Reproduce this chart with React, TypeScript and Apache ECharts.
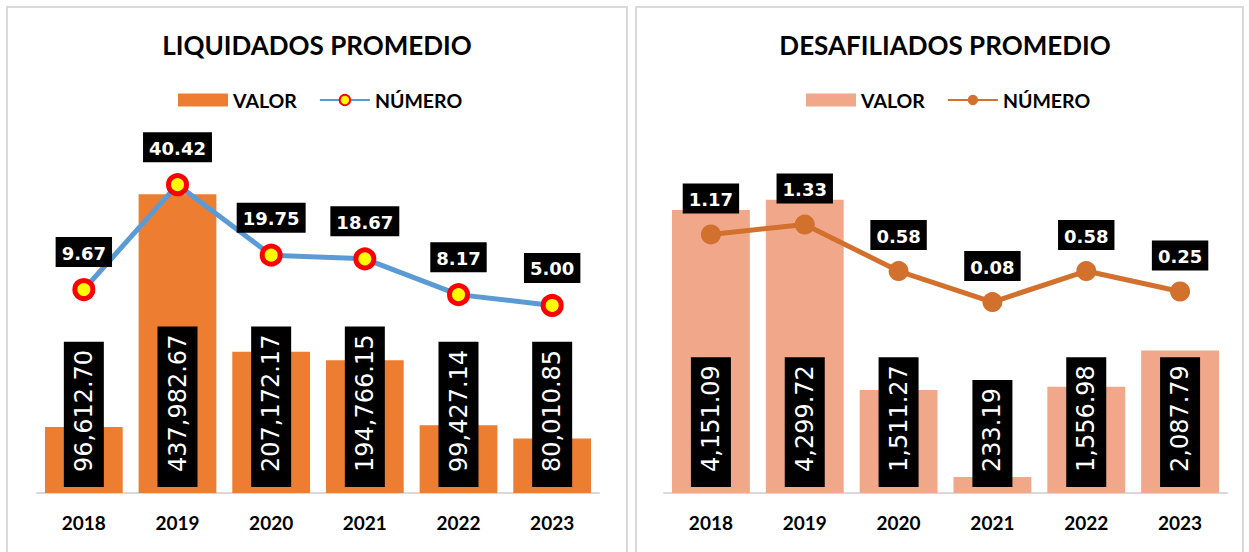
import React, { useEffect, useRef } from "react";
import * as echarts from "echarts";

const years = ["2018", "2019", "2020", "2021", "2022", "2023"];
const liqValor = [96612.7, 437982.67, 207172.17, 194766.15, 99427.14, 80010.85];
const liqNumero = [9.67, 40.42, 19.75, 18.67, 8.17, 5.0];
const desValor = [4151.09, 4299.72, 1511.27, 233.19, 1556.98, 2087.79];
const desNumero = [1.17, 1.33, 0.58, 0.08, 0.58, 0.25];

const titleLeft = "LIQUIDADOS PROMEDIO";
const titleRight = "DESAFILIADOS PROMEDIO";

const FONT = "Lato, 'Liberation Sans', sans-serif";
const LABEL_FONT = "'DejaVu Sans', Verdana, sans-serif";

const fmtMoney = (v: number) =>
  v.toLocaleString("en-US", { minimumFractionDigits: 2, maximumFractionDigits: 2 });

export default function App() {
  const ref = useRef<HTMLDivElement>(null);
  useEffect(() => {
    if (!ref.current) return;
    const chart = echarts.init(ref.current, null, { renderer: "svg" });

    const barLabel = {
      show: true,
      position: "insideBottom",
      rotate: 90,
      align: "left",
      verticalAlign: "middle",
      distance: 6,
      color: "#fff",
      backgroundColor: "#000",
      fontFamily: LABEL_FONT,
      fontSize: 24,
      padding: [8, 8, 8, 15],
      formatter: (p: any) => fmtMoney(p.value),
    };
    const lineLabel = {
      show: true,
      position: "top",
      distance: 11,
      color: "#fff",
      backgroundColor: "#000",
      fontFamily: LABEL_FONT,
      fontWeight: "bold",
      fontSize: 18,
      padding: [7, 6, 5, 6],
      formatter: (p: any) => Number(p.value).toFixed(2),
    };

    const xAxisBase = (gridIndex: number) => ({
      type: "category",
      gridIndex,
      data: years,
      axisLine: { show: true, lineStyle: { color: "#D9D9D9", width: 2 } },
      axisTick: { show: false },
      axisLabel: {
        color: "#000",
        fontFamily: FONT,
        fontWeight: "bold",
        fontSize: 19,
        margin: 20,
      },
      splitLine: { show: false },
    });

    const legendBase = {
      orient: "horizontal",
      top: 85,
      itemWidth: 50,
      itemHeight: 13,
      itemGap: 22,
      textStyle: { color: "#000", fontFamily: FONT, fontWeight: "bold", fontSize: 19.5 },
      formatter: (n: string) => n.split("_")[0],
    };

    chart.setOption({
      animation: false,
      backgroundColor: "#fff",
      graphic: [
        {
          type: "rect",
          shape: { x: 7, y: 7, width: 620, height: 560 },
          style: { fill: "none", stroke: "#D9D9D9", lineWidth: 2 },
          silent: true,
        },
        {
          type: "rect",
          shape: { x: 636, y: 7, width: 607, height: 560 },
          style: { fill: "none", stroke: "#D9D9D9", lineWidth: 2 },
          silent: true,
        },
        {
          type: "text",
          x: 317,
          y: 45,
          style: {
            text: titleLeft,
            align: "center",
            verticalAlign: "middle",
            fontFamily: FONT,
            fontWeight: "bold",
            fontSize: 26,
            fill: "#000",
          },
        },
        {
          type: "text",
          x: 945,
          y: 45,
          style: {
            text: titleRight,
            align: "center",
            verticalAlign: "middle",
            fontFamily: FONT,
            fontWeight: "bold",
            fontSize: 26,
            fill: "#000",
          },
        },
      ],
      legend: [
        {
          ...legendBase,
          left: 173,
          data: [{ name: "VALOR_L", icon: "rect" }, { name: "NÚMERO_L" }],
        },
        {
          ...legendBase,
          left: 801,
          data: [{ name: "VALOR_R", icon: "rect" }, { name: "NÚMERO_R" }],
        },
      ],
      grid: [
        { left: 37, width: 562, top: 152, height: 341 },
        { left: 664, width: 563, top: 152, height: 341 },
      ],
      xAxis: [
        xAxisBase(0),
        { ...xAxisBase(0), show: false },
        xAxisBase(1),
        { ...xAxisBase(1), show: false },
      ],
      yAxis: [
        { type: "value", gridIndex: 0, min: 0, max: 500000, show: false, splitLine: { show: false } },
        { type: "value", gridIndex: 0, min: -50, max: 50, show: false, splitLine: { show: false } },
        { type: "value", gridIndex: 1, min: 0, max: 5000, show: false, splitLine: { show: false } },
        { type: "value", gridIndex: 1, min: -3, max: 2.5, show: false, splitLine: { show: false } },
      ],
      series: [
        {
          name: "VALOR_L",
          type: "bar",
          xAxisIndex: 0,
          yAxisIndex: 0,
          data: liqValor,
          barCategoryGap: "17%",
          itemStyle: { color: "#ED7D31" },
          label: barLabel,
        },
        {
          name: "NÚMERO_L",
          type: "line",
          xAxisIndex: 1,
          yAxisIndex: 1,
          data: liqNumero,
          symbol: "circle",
          symbolSize: 18,
          lineStyle: { color: "#5B9BD5", width: 5 },
          itemStyle: { color: "#FFFF00", borderColor: "#FF0000", borderWidth: 5 },
          label: lineLabel,
          z: 5,
        },
        {
          name: "VALOR_R",
          type: "bar",
          xAxisIndex: 2,
          yAxisIndex: 2,
          data: desValor,
          barCategoryGap: "17%",
          itemStyle: { color: "#F1A88A" },
          label: barLabel,
        },
        {
          name: "NÚMERO_R",
          type: "line",
          xAxisIndex: 3,
          yAxisIndex: 3,
          data: desNumero,
          symbol: "circle",
          symbolSize: 20,
          lineStyle: { color: "#D2702E", width: 5 },
          itemStyle: { color: "#D2702E" },
          label: lineLabel,
          z: 5,
        },
      ],
    });
    return () => chart.dispose();
  }, []);
  return (
    <div
      ref={ref}
      style={{ position: "absolute", left: 0, top: 0, width: 1249, height: 552 }}
    />
  );
}
